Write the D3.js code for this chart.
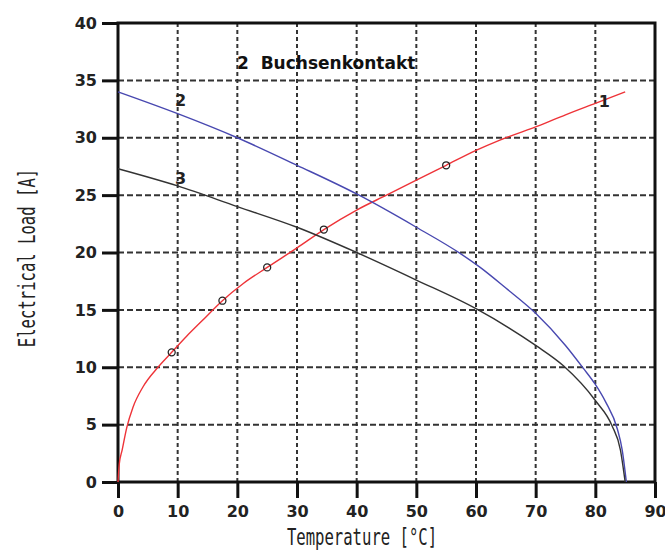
<!DOCTYPE html>
<html>
<head>
<meta charset="utf-8">
<script src="https://cdn.jsdelivr.net/npm/d3@7"></script>
<style>
  body { margin: 0; background: #fff; }
</style>
</head>
<body>
<div id="area"></div>
<script>
// curve 1 (red)
const temp1 = [0, 0.2, 0.7, 1.5, 2.5, 4.2, 6.7, 9, 11.5, 14, 17.5, 21, 25, 30, 34.5, 40, 45, 50, 55, 60, 64, 70.8, 75, 80, 85];
const load1 = [0, 1.5, 2.8, 4.8, 6.5, 8.3, 10, 11.3, 12.7, 14, 15.8, 17.3, 18.7, 20.4, 22, 23.7, 25, 26.3, 27.6, 28.9, 29.8, 31.1, 32, 33, 34];
// circle markers on curve 1
const markT = [9, 17.5, 25, 34.5, 55];
const markLoad = [11.3, 15.8, 18.7, 22, 27.6];
// curve 2 (blue)
const temp2 = [0, 10, 20, 30, 40, 50, 57.4, 60.7, 65, 70, 75, 78, 80, 81.7, 83.7, 84.5, 85.2];
const load2 = [34, 32.1, 30, 27.6, 25.1, 22.2, 19.9, 18.7, 16.9, 14.7, 11.9, 9.9, 8.5, 7, 4.6, 2.8, 0];
// curve 3 (black)
const temp3 = [0, 10, 20, 30, 40, 50, 60, 70, 74.7, 80, 82.8, 84.2, 85];
const load3 = [27.3, 25.8, 24, 22.2, 20, 17.6, 15.1, 11.9, 10.1, 7.1, 4.9, 2.8, 0];

const xTicks = [0, 10, 20, 30, 40, 50, 60, 70, 80, 90];
const yTicks = [0, 5, 10, 15, 20, 25, 30, 35, 40];
const curveLabels = [
  { text: "1", t: 81.5, v: 33.2 },
  { text: "2", t: 10.5, v: 33.3 },
  { text: "3", t: 10.5, v: 26.5 },
];
const title = "2  Buchsenkontakt";

const width = 665;
const height = 555;
const margin = { top: 23, right: 10, bottom: 73, left: 118 };

const x = d3.scaleLinear().domain([0, 90]).range([margin.left, width - margin.right]);
const y = d3.scaleLinear().domain([0, 40]).range([height - margin.bottom, margin.top]);

const svg = d3
  .select("#area")
  .append("svg")
  .attr("width", width)
  .attr("height", height);

// grid
svg
  .append("g")
  .selectAll("line")
  .data(yTicks.slice(1, -1))
  .join("line")
  .attr("x1", x(0))
  .attr("x2", x(90))
  .attr("y1", (d) => y(d))
  .attr("y2", (d) => y(d))
  .attr("stroke", "#333")
  .attr("stroke-width", 2)
  .attr("stroke-dasharray", "6,3");

svg
  .append("g")
  .selectAll("line")
  .data(xTicks.slice(1, -1))
  .join("line")
  .attr("x1", (d) => x(d))
  .attr("x2", (d) => x(d))
  .attr("y1", y(40))
  .attr("y2", y(0))
  .attr("stroke", "#333")
  .attr("stroke-width", 2)
  .attr("stroke-dasharray", "4,3");

// axes
const styleAxis = (g) => {
  g.select(".domain").remove();
  g.selectAll(".tick line").attr("stroke", "#111").attr("stroke-width", 3);
  g.selectAll(".tick text")
    .attr("fill", "#222")
    .attr("font-family", "DejaVu Sans")
    .attr("font-weight", "bold")
    .attr("font-size", 16);
};

svg
  .append("g")
  .attr("transform", `translate(${x(0)}, 0)`)
  .call(d3.axisLeft(y).tickValues(yTicks).tickSize(16).tickPadding(5))
  .call(styleAxis);

svg
  .append("g")
  .attr("transform", `translate(0, ${y(0)})`)
  .call(d3.axisBottom(x).tickValues(xTicks).tickSize(16).tickPadding(8))
  .call(styleAxis);

// frame
svg
  .append("rect")
  .attr("x", x(0))
  .attr("y", y(40))
  .attr("width", x(90) - x(0))
  .attr("height", y(0) - y(40))
  .attr("fill", "none")
  .attr("stroke", "#111")
  .attr("stroke-width", 3);

// curves
const line = d3
  .line()
  .x((d) => x(d[0]))
  .y((d) => y(d[1]))
  .curve(d3.curveMonotoneX);

const series = [
  { t: temp1, v: load1, color: "#ee3338" },
  { t: temp2, v: load2, color: "#4848b0" },
  { t: temp3, v: load3, color: "#333333" },
];

series.forEach((s) => {
  svg
    .append("path")
    .attr("fill", "none")
    .attr("stroke", s.color)
    .attr("stroke-width", 1.4)
    .attr("d", line(d3.zip(s.t, s.v)));
});

svg
  .append("g")
  .selectAll("circle")
  .data(d3.zip(markT, markLoad))
  .join("circle")
  .attr("cx", (d) => x(d[0]))
  .attr("cy", (d) => y(d[1]))
  .attr("r", 3.5)
  .attr("fill", "none")
  .attr("stroke", "#222")
  .attr("stroke-width", 1.3);

// labels
svg
  .append("g")
  .selectAll("text")
  .data(curveLabels)
  .join("text")
  .attr("x", (d) => x(d.t))
  .attr("y", (d) => y(d.v))
  .attr("text-anchor", "middle")
  .attr("dy", "0.36em")
  .attr("font-family", "DejaVu Sans")
  .attr("font-weight", "bold")
  .attr("font-size", 16)
  .attr("fill", "#222")
  .text((d) => d.text);

svg
  .append("text")
  .attr("x", 237)
  .attr("y", 69)
  .attr("font-family", "DejaVu Sans")
  .attr("font-weight", "bold")
  .attr("font-size", 17)
  .attr("fill", "#111")
  .attr("xml:space", "preserve")
  .text(title);

// axis titles (tall, narrow mono)
svg
  .append("text")
  .attr("transform", "translate(362, 545) scale(1, 1.5)")
  .attr("text-anchor", "middle")
  .attr("font-family", "DejaVu Sans Mono")
  .attr("font-size", 15.6)
  .attr("fill", "#222")
  .text("Temperature [°C]");

svg
  .append("text")
  .attr("transform", "translate(35, 258) rotate(-90) scale(1, 1.5)")
  .attr("text-anchor", "middle")
  .attr("font-family", "DejaVu Sans Mono")
  .attr("font-size", 15.6)
  .attr("fill", "#222")
  .text("Electrical Load [A]");
</script>
</body>
</html>
